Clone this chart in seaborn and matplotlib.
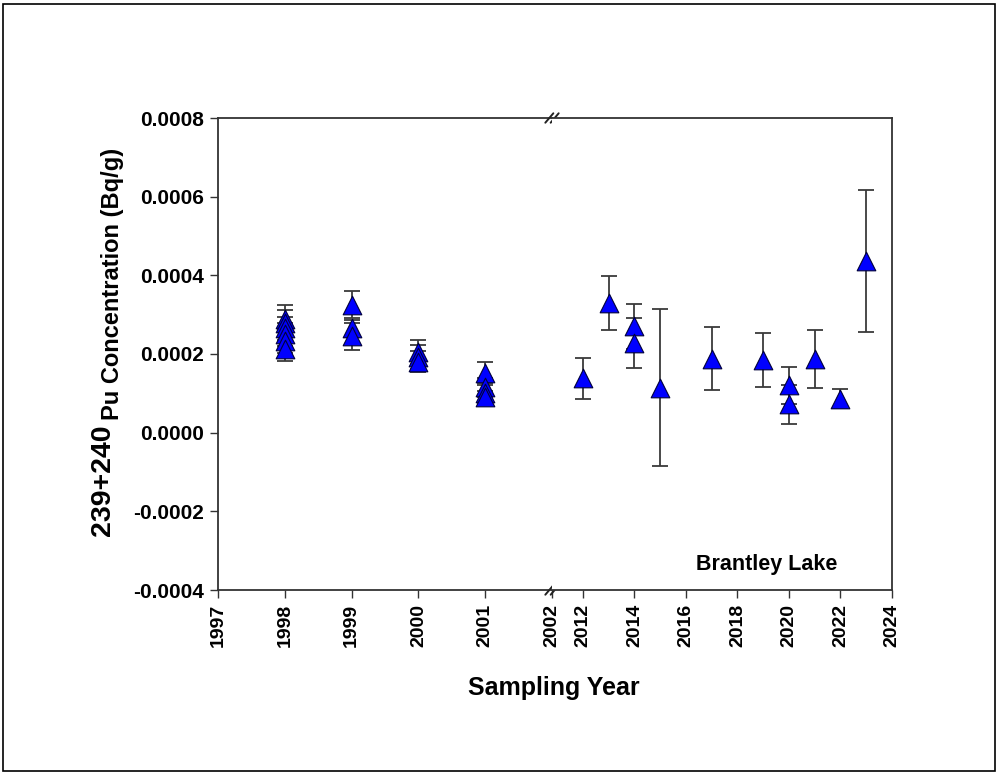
import matplotlib
matplotlib.use('Agg')
import matplotlib.pyplot as plt
import numpy as np
import pandas as pd
import seaborn as sns
from matplotlib.patches import Rectangle

# data
years = [1998, 1998, 1998, 1998, 1998, 1998,
         1999, 1999, 1999,
         2000, 2000, 2000,
         2001, 2001, 2001, 2001,
         2012, 2013, 2014, 2014, 2015, 2017, 2019, 2020, 2020, 2021, 2022, 2023]
conc = [0.000290, 0.000278, 0.000265, 0.000250, 0.000232, 0.000212,
        0.000325, 0.000265, 0.000245,
        0.000205, 0.000193, 0.000180,
        0.000152, 0.000115, 0.000100, 0.000090,
        0.000138, 0.000330, 0.000270, 0.000228, 0.000114, 0.000188,
        0.000185, 0.000120, 0.000072, 0.000188, 0.000086, 0.000437]
err = [0.000035, 0.000034, 0.000030, 0.000030, 0.000030, 0.000030,
       0.000034, 0.000022, 0.000035,
       0.000030, 0.000030, 0.000027,
       0.000027, 0.000025, 0.000022, 0.000017,
       0.000052, 0.000068, 0.000057, 0.000063, 0.000200, 0.000080,
       0.000068, 0.000047, 0.000049, 0.000074, 0.000024, 0.000180]

left_ticks = [1997, 1998, 1999, 2000, 2001, 2002]
right_ticks = [2012, 2014, 2016, 2018, 2020, 2022, 2024]
y_ticks = [-0.0004, -0.0002, 0.0000, 0.0002, 0.0004, 0.0006, 0.0008]

data = pd.DataFrame({'year': years, 'conc': conc, 'err': err})

sns.set_style('ticks')
plt.rcParams['font.family'] = ['Liberation Sans', 'DejaVu Sans']
plt.rcParams['font.weight'] = 'bold'
plt.rcParams['text.color'] = 'black'
plt.rcParams['xtick.labelcolor'] = 'black'
plt.rcParams['ytick.labelcolor'] = 'black'

fig = plt.figure(figsize=(9.99, 7.75), dpi=100)
W, H = 999, 775
bot = 1 - 590 / H
hgt = 472 / H
ax1 = fig.add_axes([218 / W, bot, (552 - 218) / W, hgt])
ax2 = fig.add_axes([552 / W, bot, (892 - 552) / W, hgt], sharey=ax1)

parts = [(ax1, data[data.year <= 2002], (1997, 2002), left_ticks),
         (ax2, data[data.year > 2002], (2010.8, 2024), right_ticks)]

for ax, d, lim, ticks in parts:
    ax.errorbar(d.year, d.conc, yerr=d.err, fmt='none', ecolor='#3a3a3a',
                elinewidth=1.3, capsize=5.5, capthick=1.3, zorder=2)
    sns.scatterplot(data=d, x='year', y='conc', ax=ax, marker='^', s=180,
                    color='#0000ff', edgecolor='#00003a', linewidth=0.8,
                    zorder=3, legend=False)
    ax.set_xlim(*lim)
    ax.set_xticks(ticks)
    ax.set_xticklabels([str(t) for t in ticks], rotation=90, fontsize=14,
                       fontweight='bold')
    ax.set_xlabel('')
    ax.set_ylabel('')
    ax.tick_params(direction='out', length=6, width=1, color='#333333', pad=4)
    for s in ax.spines.values():
        s.set_linewidth(1.3)
        s.set_color('#333333')

ax1.set_ylim(-0.0004, 0.0008)
ax1.set_yticks(y_ticks)
ax1.set_yticklabels(['%.4f' % v for v in y_ticks], fontsize=15, fontweight='bold')
ax1.spines['right'].set_visible(False)
ax2.spines['left'].set_visible(False)
ax2.tick_params(axis='y', left=False, labelleft=False)

# break marks on the top and bottom spines
for yy in (0, 1):
    for off in (-0.008, 0.008):
        ax1.plot([1 + off - 0.012, 1 + off + 0.012], [yy - 0.01, yy + 0.01],
                 transform=ax1.transAxes, color='#222222', lw=1.4,
                 clip_on=False, zorder=5)

ax2.text(0.63, 0.055, 'Brantley Lake', transform=ax2.transAxes,
         ha='center', va='center', fontsize=15.5, fontweight='bold')

fig.text(554 / W, 1 - 688 / H, 'Sampling Year', ha='center', va='center',
         fontsize=18, fontweight='bold')
fig.text(103 / W, 1 - 536 / H, '239+240', rotation=90, ha='center',
         va='bottom', fontsize=20.5, fontweight='bold')
fig.text(113 / W, 1 - 420 / H, 'Pu Concentration (Bq/g)', rotation=90,
         ha='center', va='bottom', fontsize=17, fontweight='bold')

fig.patches.append(Rectangle((3 / W, 4 / H), 992 / W, 767 / H, fill=False,
                             edgecolor='black', lw=1.2,
                             transform=fig.transFigure, figure=fig))

fig.savefig('out.png', dpi=100)
